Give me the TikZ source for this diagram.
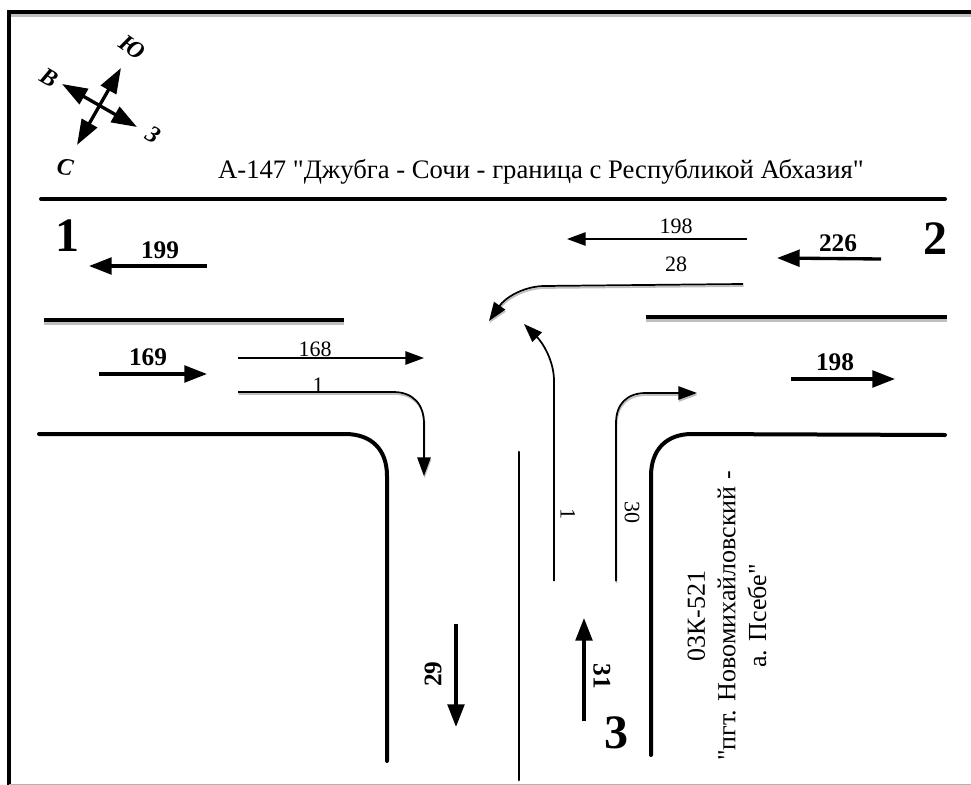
\documentclass[tikz,border=0pt]{standalone}
\usepackage{fontspec}
\setmainfont{Liberation Serif}[Ligatures=TeXOff]
\usetikzlibrary{arrows.meta}

\begin{document}
\begin{tikzpicture}[x=0.75pt,y=-0.75pt]
    \tikzstyle{road}=[line width=3pt,line cap=round]
    \tikzstyle{lane}=[line width=1.3pt,-{Triangle[length=14pt,width=10pt]}]
    \tikzstyle{lane shade}=[line width=1.3pt,black!25,shift={(0.6,2)},-{Triangle[length=14pt,width=10pt]}]
    \tikzstyle{road shade}=[line width=3pt,black!25,shift={(0,3)}]
    \tikzstyle{flow}=[line width=2.5pt,-{Triangle[length=17pt,width=12.5pt]}]
    \tikzstyle{compass}=[line width=2.5pt,{Triangle[length=19pt,width=13pt]}-{Triangle[length=19pt,width=13pt]}]
    \tikzstyle{side}=[font=\itshape\bfseries\fontsize{18}{18}\selectfont,inner sep=0pt]
    \tikzstyle{count}=[font=\fontsize{16.5}{16.5}\selectfont,inner sep=0pt]
    \tikzstyle{total}=[font=\bfseries\fontsize{19}{19}\selectfont,inner sep=0pt]
    \tikzstyle{leg}=[font=\bfseries\fontsize{36}{36}\selectfont,inner sep=0pt]
    \tikzstyle{title}=[font=\fontsize{20}{23}\selectfont,inner sep=0pt]
    \def\laneright{(238,392) -- (393,392) .. controls (413,392) and (424,404) .. (424,424) -- (424,476)}
    \def\laneleft{(743,284) -- (543,286) .. controls (522,287) and (505,298) .. (489,321)}
    \def\laneturn{(616,581) -- (616,423) .. controls (616,404) and (627,393) .. (646,393) -- (697,393)}
    \useasboundingbox (0,0) rectangle (971,785);
    % frame
    \draw[black!25,line width=2.6pt] (11,15) -- (971,15);
    \draw[line width=2.8pt] (9,785) -- (9,12) -- (971,12);
    \draw[black!30,line width=1pt] (9,784.5) -- (971,784.5);
    % compass
    \coordinate (north east) at (121,68);
    \coordinate (south west) at (77,145);
    \coordinate (north west) at (62,84);
    \coordinate (south east) at (137,127);
    \draw[compass] (south west) -- (north east);
    \draw[compass] (north west) -- (south east);
    \node[side,rotate=-35] (yu) at (132,47) {Ю};
    \node[side,rotate=-30] (ve) at (49,78) {В};
    \node[side,rotate=-30] (ze) at (153,135) {З};
    \node[side,rotate=-10] (es) at (65,167) {С};
    % road names
    \node[title] (main road) at (541,172) {А-147 "Джубга - Сочи - граница с Республикой Абхазия"};
    \node[title,rotate=90,align=center,font=\fontsize{19.5}{23}\selectfont] (side road) at (727,616) {03К-521\\"пгт. Новомихайловский -\\а. Псебе"};
    % road edges
    \draw[road] (41,199) -- (945,199);
    \draw[road shade] (44,320) -- (344,320);
    \draw[road,line cap=butt] (44,320) -- (344,320);
    \draw[road shade] (646,317) -- (947,317);
    \draw[road,line cap=butt] (646,317) -- (947,317);
    \draw[road] (39,434) -- (345,434) .. controls (372,434) and (387,450) .. (387,476) -- (387,761);
    \draw[road] (651,755) -- (651,476) .. controls (651,450) and (666,434) .. (692,434) -- (945,435);
    \draw[line width=2pt,line cap=round] (519,452) -- (519,780);
    % lane arrows
    \coordinate (w in) at (238,358);
    \coordinate (w out) at (424,358);
    \coordinate (e in) at (747,239);
    \coordinate (e out) at (567,239);
    \draw[lane] (w in) -- (w out);
    \draw[lane] (e in) -- (e out);
    \draw[lane shade] \laneright;
    \draw[lane] \laneright;
    \draw[lane shade] \laneleft;
    \draw[lane] \laneleft;
    \draw[lane] (554,581) -- (554,381) .. controls (554,360) and (542,342) .. (524,324);
    \draw[lane shade] \laneturn;
    \draw[lane] \laneturn;
    % totals
    \coordinate (a1) at (207,266); \coordinate (a2) at (89,266);
    \coordinate (b1) at (881,259); \coordinate (b2) at (777,258);
    \coordinate (c1) at (99,374);  \coordinate (c2) at (207,374);
    \coordinate (d1) at (791,379); \coordinate (d2) at (895,379);
    \coordinate (f1) at (456,624); \coordinate (f2) at (456,727);
    \coordinate (g1) at (584,721); \coordinate (g2) at (584,618);
    \foreach \from/\to in {a1/a2,b1/b2,c1/c2,d1/d2,f1/f2,g1/g2}
        \draw[flow] (\from) -- (\to);
    \node[total] (n199) at (160,250) {199};
    \node[total] (n226) at (838,243) {226};
    \node[total] (n169) at (148,357) {169};
    \node[total] (n198) at (835,362) {198};
    \node[total,rotate=90] (n29) at (433,674) {29};
    \node[total,rotate=-90] (n31) at (602,676) {31};
    % lane counts
    \node[count] (m198) at (676,226) {198};
    \node[count] (m28) at (676,264) {28};
    \node[count] (m168) at (315,349) {168};
    \node[count] (m1) at (318,385) {1};
    \node[count,rotate=-90] (k1) at (568,514) {1};
    \node[count,rotate=-90] (k30) at (632,512) {30};
    % legs
    \node[leg] (leg 1) at (67,236) {1};
    \node[leg] (leg 2) at (935,239) {2};
    \node[leg] (leg 3) at (616,733) {3};
\end{tikzpicture}
\end{document}
